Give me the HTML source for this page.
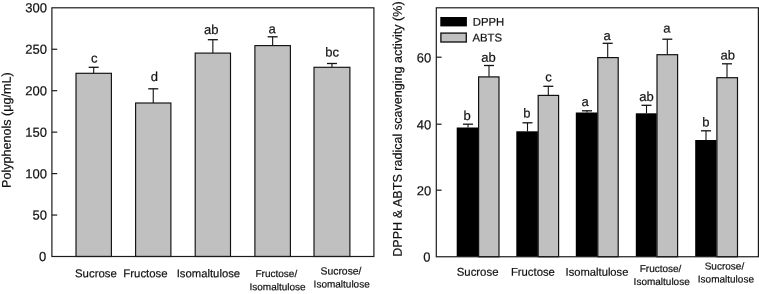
<!DOCTYPE html>
<html><head><meta charset="utf-8"><title>chart</title>
<style>
html,body{margin:0;padding:0;background:#fff;}
body{width:759px;height:294px;overflow:hidden;}
svg{display:block;will-change:transform;}
text{font-family:"Liberation Sans", sans-serif;fill:#111111;stroke:#111111;stroke-width:0.2px;}
</style></head><body>
<svg width="759" height="294" viewBox="0 0 759 294">
<rect x="0" y="0" width="759" height="294" fill="#ffffff"/>
<line x1="93.7" y1="73.3" x2="93.7" y2="67.3" stroke="#111" stroke-width="1.1"/>
<line x1="88.7" y1="67.3" x2="98.7" y2="67.3" stroke="#111" stroke-width="1.3"/>
<rect x="76.0" y="73.3" width="35.400000000000006" height="183.2" fill="#c0c0c0" stroke="#111" stroke-width="1.15"/>
<text transform="translate(94.30,62.60) rotate(0.03)" font-size="13" text-anchor="middle" >c</text>
<line x1="153.25" y1="103.0" x2="153.25" y2="88.8" stroke="#111" stroke-width="1.1"/>
<line x1="148.25" y1="88.8" x2="158.25" y2="88.8" stroke="#111" stroke-width="1.3"/>
<rect x="135.6" y="103.0" width="35.30000000000001" height="153.5" fill="#c0c0c0" stroke="#111" stroke-width="1.15"/>
<text transform="translate(154.30,81.10) rotate(0.03)" font-size="13" text-anchor="middle" >d</text>
<line x1="212.85" y1="53.1" x2="212.85" y2="39.7" stroke="#111" stroke-width="1.1"/>
<line x1="207.85" y1="39.7" x2="217.85" y2="39.7" stroke="#111" stroke-width="1.3"/>
<rect x="195.2" y="53.1" width="35.30000000000001" height="203.4" fill="#c0c0c0" stroke="#111" stroke-width="1.15"/>
<text transform="translate(211.20,33.90) rotate(0.03)" font-size="13" text-anchor="middle" >ab</text>
<line x1="272.65" y1="45.6" x2="272.65" y2="36.8" stroke="#111" stroke-width="1.1"/>
<line x1="267.65" y1="36.8" x2="277.65" y2="36.8" stroke="#111" stroke-width="1.3"/>
<rect x="254.9" y="45.6" width="35.49999999999997" height="210.9" fill="#c0c0c0" stroke="#111" stroke-width="1.15"/>
<text transform="translate(272.00,33.20) rotate(0.03)" font-size="13" text-anchor="middle" >a</text>
<line x1="331.95" y1="67.3" x2="331.95" y2="63.5" stroke="#111" stroke-width="1.1"/>
<line x1="326.95" y1="63.5" x2="336.95" y2="63.5" stroke="#111" stroke-width="1.3"/>
<rect x="314.0" y="67.3" width="35.89999999999998" height="189.2" fill="#c0c0c0" stroke="#111" stroke-width="1.15"/>
<text transform="translate(332.10,56.40) rotate(0.03)" font-size="13" text-anchor="middle" >bc</text>
<rect x="51.9" y="7.8" width="322.0" height="248.7" fill="none" stroke="#1c1c1c" stroke-width="1.2"/>
<line x1="51.9" y1="215.05" x2="57.199999999999996" y2="215.05" stroke="#1c1c1c" stroke-width="1.2"/>
<line x1="51.9" y1="173.60000000000002" x2="57.199999999999996" y2="173.60000000000002" stroke="#1c1c1c" stroke-width="1.2"/>
<line x1="51.9" y1="132.15" x2="57.199999999999996" y2="132.15" stroke="#1c1c1c" stroke-width="1.2"/>
<line x1="51.9" y1="90.70000000000002" x2="57.199999999999996" y2="90.70000000000002" stroke="#1c1c1c" stroke-width="1.2"/>
<line x1="51.9" y1="49.25" x2="57.199999999999996" y2="49.25" stroke="#1c1c1c" stroke-width="1.2"/>
<text transform="translate(46.30,261.05) rotate(0.03)" font-size="13" text-anchor="end" >0</text>
<text transform="translate(47.00,219.60) rotate(0.03)" font-size="13" text-anchor="end" >50</text>
<text transform="translate(47.00,178.15) rotate(0.03)" font-size="13" text-anchor="end" >100</text>
<text transform="translate(47.00,136.70) rotate(0.03)" font-size="13" text-anchor="end" >150</text>
<text transform="translate(47.00,95.25) rotate(0.03)" font-size="13" text-anchor="end" >200</text>
<text transform="translate(47.00,53.80) rotate(0.03)" font-size="13" text-anchor="end" >250</text>
<text transform="translate(47.00,12.35) rotate(0.03)" font-size="13" text-anchor="end" >300</text>
<text transform="translate(10.8,188.0) rotate(-90.03)" font-size="12.6">Polyphenols (μg/mL)</text>
<text transform="translate(75.00,277.20) rotate(0.03)" font-size="11.4" text-anchor="start" >Sucrose</text>
<text transform="translate(123.30,277.20) rotate(0.03)" font-size="11.4" text-anchor="start" >Fructose</text>
<text transform="translate(176.70,277.20) rotate(0.03)" font-size="11.3" text-anchor="start" >Isomaltulose</text>
<text transform="translate(255.50,277.00) rotate(0.03)" font-size="10.0" text-anchor="start" >Fructose/</text>
<text transform="translate(249.50,290.30) rotate(0.03)" font-size="10.0" text-anchor="start" >Isomaltulose</text>
<text transform="translate(320.50,274.40) rotate(0.03)" font-size="10.4" text-anchor="start" >Sucrose/</text>
<text transform="translate(313.60,287.50) rotate(0.03)" font-size="10.0" text-anchor="start" >Isomaltulose</text>
<line x1="468.0" y1="127.5" x2="468.0" y2="124.2" stroke="#111" stroke-width="1.1"/>
<line x1="463.0" y1="124.2" x2="473.0" y2="124.2" stroke="#111" stroke-width="1.3"/>
<line x1="489.0" y1="76.7" x2="489.0" y2="65.5" stroke="#111" stroke-width="1.1"/>
<line x1="484.0" y1="65.5" x2="494.0" y2="65.5" stroke="#111" stroke-width="1.3"/>
<rect x="456.7" y="127.5" width="21.600000000000023" height="129.25" fill="#000"/>
<rect x="478.6" y="76.9" width="20.399999999999977" height="179.85000000000002" fill="#c0c0c0" stroke="#111" stroke-width="1.2"/>
<line x1="527.5" y1="131.3" x2="527.5" y2="122.8" stroke="#111" stroke-width="1.1"/>
<line x1="522.5" y1="122.8" x2="532.5" y2="122.8" stroke="#111" stroke-width="1.3"/>
<line x1="548.3" y1="95.2" x2="548.3" y2="86.3" stroke="#111" stroke-width="1.1"/>
<line x1="543.3" y1="86.3" x2="553.3" y2="86.3" stroke="#111" stroke-width="1.3"/>
<rect x="516.3" y="131.3" width="21.600000000000023" height="125.44999999999999" fill="#000"/>
<rect x="538.1999999999999" y="95.4" width="20.399999999999977" height="161.35000000000002" fill="#c0c0c0" stroke="#111" stroke-width="1.2"/>
<line x1="587.0" y1="112.5" x2="587.0" y2="110.8" stroke="#111" stroke-width="1.1"/>
<line x1="582.0" y1="110.8" x2="592.0" y2="110.8" stroke="#111" stroke-width="1.3"/>
<line x1="607.7" y1="57.4" x2="607.7" y2="43.3" stroke="#111" stroke-width="1.1"/>
<line x1="602.7" y1="43.3" x2="612.7" y2="43.3" stroke="#111" stroke-width="1.3"/>
<rect x="575.8" y="112.5" width="21.700000000000045" height="144.25" fill="#000"/>
<rect x="597.8" y="57.6" width="20.399999999999977" height="199.15" fill="#c0c0c0" stroke="#111" stroke-width="1.2"/>
<line x1="646.5" y1="113.3" x2="646.5" y2="105.3" stroke="#111" stroke-width="1.1"/>
<line x1="641.5" y1="105.3" x2="651.5" y2="105.3" stroke="#111" stroke-width="1.3"/>
<line x1="667.3" y1="54.5" x2="667.3" y2="39.2" stroke="#111" stroke-width="1.1"/>
<line x1="662.3" y1="39.2" x2="672.3" y2="39.2" stroke="#111" stroke-width="1.3"/>
<rect x="635.8" y="113.3" width="20.90000000000009" height="143.45" fill="#000"/>
<rect x="657.0" y="54.7" width="20.59999999999991" height="202.05" fill="#c0c0c0" stroke="#111" stroke-width="1.2"/>
<line x1="706.0" y1="140.0" x2="706.0" y2="130.8" stroke="#111" stroke-width="1.1"/>
<line x1="701.0" y1="130.8" x2="711.0" y2="130.8" stroke="#111" stroke-width="1.3"/>
<line x1="727.0" y1="77.5" x2="727.0" y2="63.8" stroke="#111" stroke-width="1.1"/>
<line x1="722.0" y1="63.8" x2="732.0" y2="63.8" stroke="#111" stroke-width="1.3"/>
<rect x="695.2" y="140.0" width="21.399999999999977" height="116.75" fill="#000"/>
<rect x="716.9" y="77.7" width="20.600000000000023" height="179.05" fill="#c0c0c0" stroke="#111" stroke-width="1.2"/>
<text transform="translate(467.10,119.90) rotate(0.03)" font-size="13" text-anchor="middle" >b</text>
<text transform="translate(488.60,61.70) rotate(0.03)" font-size="13" text-anchor="middle" >ab</text>
<text transform="translate(526.90,117.40) rotate(0.03)" font-size="13" text-anchor="middle" >b</text>
<text transform="translate(548.40,81.20) rotate(0.03)" font-size="13" text-anchor="middle" >c</text>
<text transform="translate(585.20,105.90) rotate(0.03)" font-size="13" text-anchor="middle" >a</text>
<text transform="translate(607.00,39.90) rotate(0.03)" font-size="13" text-anchor="middle" >a</text>
<text transform="translate(646.40,100.90) rotate(0.03)" font-size="13" text-anchor="middle" >ab</text>
<text transform="translate(666.80,32.60) rotate(0.03)" font-size="13" text-anchor="middle" >a</text>
<text transform="translate(705.80,126.60) rotate(0.03)" font-size="13" text-anchor="middle" >b</text>
<text transform="translate(727.70,59.60) rotate(0.03)" font-size="13" text-anchor="middle" >ab</text>
<rect x="436.3" y="7.8" width="322.09999999999997" height="248.95" fill="none" stroke="#1c1c1c" stroke-width="1.2"/>
<line x1="436.3" y1="190.2" x2="441.6" y2="190.2" stroke="#1c1c1c" stroke-width="1.2"/>
<text transform="translate(431.30,195.20) rotate(0.03)" font-size="13" text-anchor="end" >20</text>
<line x1="436.3" y1="124.2" x2="441.6" y2="124.2" stroke="#1c1c1c" stroke-width="1.2"/>
<text transform="translate(431.30,129.20) rotate(0.03)" font-size="13" text-anchor="end" >40</text>
<line x1="436.3" y1="57.2" x2="441.6" y2="57.2" stroke="#1c1c1c" stroke-width="1.2"/>
<text transform="translate(431.30,62.20) rotate(0.03)" font-size="13" text-anchor="end" >60</text>
<text transform="translate(430.60,261.45) rotate(0.03)" font-size="13" text-anchor="end" >0</text>
<text transform="translate(401.8,256.8) rotate(-90.03)" font-size="12.6">DPPH &amp; ABTS radical scavenging activity (%)</text>
<rect x="440.3" y="17.0" width="26.6" height="9.4" fill="#000"/>
<rect x="440.9" y="33.1" width="25.4" height="8.9" fill="#c0c0c0" stroke="#1a1a1a" stroke-width="1.4"/>
<text transform="translate(472.85,25.80) rotate(0.03)" font-size="11.3" text-anchor="start" >DPPH</text>
<text transform="translate(472.50,41.40) rotate(0.03)" font-size="11.3" text-anchor="start" >ABTS</text>
<text transform="translate(456.70,275.80) rotate(0.03)" font-size="11.4" text-anchor="start" >Sucrose</text>
<text transform="translate(510.90,275.80) rotate(0.03)" font-size="11.3" text-anchor="start" >Fructose</text>
<text transform="translate(565.60,275.80) rotate(0.03)" font-size="11.2" text-anchor="start" >Isomaltulose</text>
<text transform="translate(639.70,272.00) rotate(0.03)" font-size="10.0" text-anchor="start" >Fructose/</text>
<text transform="translate(633.60,285.00) rotate(0.03)" font-size="10.0" text-anchor="start" >Isomaltulose</text>
<text transform="translate(704.70,269.40) rotate(0.03)" font-size="10.0" text-anchor="start" >Sucrose/</text>
<text transform="translate(697.80,282.40) rotate(0.03)" font-size="10.0" text-anchor="start" >Isomaltulose</text>
</svg>
</body></html>
